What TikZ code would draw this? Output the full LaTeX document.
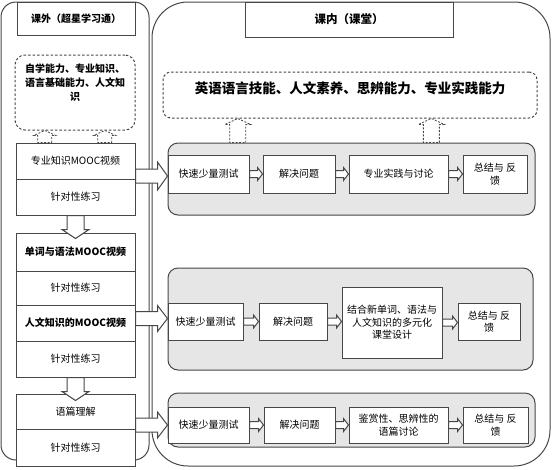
\documentclass[tikz,border=0pt]{standalone}
\usepackage{fontspec}
\setmainfont{Noto Sans CJK SC}
\usetikzlibrary{calc}
\definecolor{linec}{HTML}{474747}
\definecolor{rowfill}{HTML}{E6E6E6}
% horizontal block arrow: style, from, to, shaft half, head half, head length
\newcommand{\hblk}[6]{\path[#1] let \p1=(#2), \p2=(#3) in
  ({\x1},{\y2+#4}) -- ({\x2-#6},{\y2+#4}) -- ({\x2-#6},{\y2+#5}) -- ({\x2},{\y2}) -- ({\x2-#6},{\y2-#5}) -- ({\x2-#6},{\y2-#4}) -- ({\x1},{\y2-#4}) -- cycle;}
% vertical block arrow: style, from, to, shaft half, head half, signed head length
\newcommand{\vblk}[6]{\path[#1] let \p1=(#2), \p2=(#3) in
  ({\x1+#4},{\y1}) -- ({\x1+#4},{\y2+(#6)}) -- ({\x1+#5},{\y2+(#6)}) -- ({\x1},{\y2}) -- ({\x1-#5},{\y2+(#6)}) -- ({\x1-#4},{\y2+(#6)}) -- ({\x1-#4},{\y1}) -- cycle;}
\begin{document}
\begin{tikzpicture}[x=1pt,y=-1pt,
  every node/.style={inner sep=1pt, align=center, font=\fontsize{10}{12.5}\selectfont},
  panel/.style={draw=linec, line width=1pt, fill=white},
  box/.style={draw=linec, line width=1pt, fill=white},
  rowbox/.style={draw=linec, line width=1pt, fill=rowfill, rounded corners=10pt},
  dbox/.style={draw=linec, line width=1pt, dashed, dash pattern=on 2.5pt off 2pt, rounded corners=10pt},
  blk/.style={draw=linec, line width=1pt, fill=white},
  dblk/.style={draw=linec, line width=0.8pt, dash pattern=on 2pt off 1.5pt, fill=white},
  bold/.style={font=\fontsize{10}{12.5}\selectfont\bfseries}
]
\useasboundingbox (0,0) rectangle (553,469);
% ---------- panels ----------
\node[panel, rounded corners=15pt, minimum width=148pt, minimum height=458pt] (Lp) at (75,231) {};
\node[panel, rounded corners=36pt, minimum width=398pt, minimum height=464pt] (Rp) at (351,234) {};
% ---------- left side ----------
\node[box, minimum width=118pt, minimum height=33pt, font=\fontsize{10}{12}\selectfont\bfseries] (Lt) at (76,18.5) {课外（超星学习通）};
\node[dbox, minimum width=120pt, minimum height=75pt] (Ld) at (75,92.5) {};
\node[font=\fontsize{10}{14}\selectfont\bfseries] (Ldt) at (75,83) {自学能力、专业知识、\\语言基础能力、人文知\\识};
\node[box, minimum width=119pt, minimum height=36pt] (L1a) at (75.5,161) {专业知识MOOC视频};
\node[box, minimum width=119pt, minimum height=36pt] (L1b) at (75.5,197) {针对性练习};
\node[box, minimum width=119pt, minimum height=38pt, bold] (L2a) at (75.5,252) {单词与语法MOOC视频};
\node[box, minimum width=119pt, minimum height=34pt] (L2b) at (75.5,288) {针对性练习};
\node[box, minimum width=119pt, minimum height=36pt, bold] (L3a) at (75.5,323) {人文知识的MOOC视频};
\node[box, minimum width=119pt, minimum height=36pt] (L3b) at (75.5,359) {针对性练习};
\node[box, minimum width=119pt, minimum height=35pt] (L4a) at (75.5,411.5) {语篇理解};
\node[box, minimum width=119pt, minimum height=37pt] (L4b) at (75.5,447.5) {针对性练习};
% dashed up arrows (left)
\coordinate (La1) at ($(L1a.north west)!0.244!(L1a.north east)$);
\coordinate (La2) at ($(L1a.north west)!0.744!(L1a.north east)$);
\vblk{dblk}{La1}{La1 |- Ld.south}{7pt}{11pt}{-5pt}
\vblk{dblk}{La2}{La2 |- Ld.south}{7pt}{11pt}{-5pt}
% down arrows (left)
\vblk{blk}{L1b.south}{$(L2a.north)+(0,6)$}{8.5pt}{13.5pt}{9pt}
\vblk{blk}{L3b.south}{$(L4a.north)+(0,7)$}{8.5pt}{13.5pt}{9pt}
% ---------- right side ----------
\node[box, minimum width=208pt, minimum height=35pt, font=\fontsize{11.5}{13}\selectfont\bfseries] (Rt) at (349,19.5) {课内（课堂）};
\node[dbox, rounded corners=8pt, minimum width=374pt, minimum height=46pt] (Rd) at (350,95) {};
\node[font=\fontsize{13.5}{15}\selectfont\bfseries] (Rdt) at (350,88) {英语语言技能、人文素养、思辨能力、专业实践能力};
% row 1
\node[rowbox, minimum width=367pt, minimum height=72pt] (R1) at (351.5,179) {};
\node[box, minimum width=81pt, minimum height=38pt] (A1) at (208.5,174) {快速少量测试};
\node[box, minimum width=72pt, minimum height=38pt] (B1) at (299,174) {解决问题};
\node[box, minimum width=99pt, minimum height=38pt] (C1) at (398.5,174) {专业实践与讨论};
\node[box, minimum width=64pt, minimum height=38pt] (D1) at (495,174) {总结与 反\\馈};
% row 2
\node[rowbox, minimum width=365pt, minimum height=102pt] (R2) at (350.5,319) {};
\node[box, minimum width=75pt, minimum height=37pt] (A2) at (205.5,321.5) {快速少量测试};
\node[box, minimum width=68pt, minimum height=37pt] (B2) at (293,321.5) {解决问题};
\node[box, minimum width=100pt, minimum height=71pt] (C2) at (392,322.5) {结合新单词、语法与\\人文知识的多元化\\课堂设计};
\node[box, minimum width=62pt, minimum height=37pt] (D2) at (489,321.5) {总结与 反\\馈};
% row 3
\node[rowbox, minimum width=367pt, minimum height=54pt] (R3) at (351.5,420) {};
\node[box, minimum width=81pt, minimum height=36pt] (A3) at (208.5,425) {快速少量测试};
\node[box, minimum width=71pt, minimum height=36pt] (B3) at (299.5,425) {解决问题};
\node[box, minimum width=99pt, minimum height=36pt] (C3) at (398.5,425) {鉴赏性、思辨性的\\语篇讨论};
\node[box, minimum width=65pt, minimum height=36pt] (D3) at (495.5,425) {总结与 反\\馈};
% dashed up arrows (right)
\coordinate (Ra1) at ($(R1.north west)!0.191!(R1.north east)$);
\coordinate (Ra2) at ($(R1.north west)!0.717!(R1.north east)$);
\vblk{dblk}{Ra1}{Ra1 |- Rd.south}{8pt}{13pt}{-6pt}
\vblk{dblk}{Ra2}{Ra2 |- Rd.south}{8pt}{13pt}{-6pt}
% small arrows within rows
\foreach \a/\b in {A1/B1,B1/C1,C1/D1,A2/B2,B2/C2,C2/D2,A3/B3,B3/C3,C3/D3}{
  \hblk{blk}{\a.east}{\b.west |- \a.east}{3.5pt}{6.5pt}{5pt}
}
% big arrows left -> right
\hblk{blk}{L1a.east}{$(A1.west)+(0,2)$}{7pt}{14pt}{10pt}
\hblk{blk}{L2b.east}{$(A2.west)+(0,-3)$}{7pt}{13pt}{10pt}
\hblk{blk}{L4a.east}{A3.west}{7pt}{13pt}{10pt}
\end{tikzpicture}
\end{document}
